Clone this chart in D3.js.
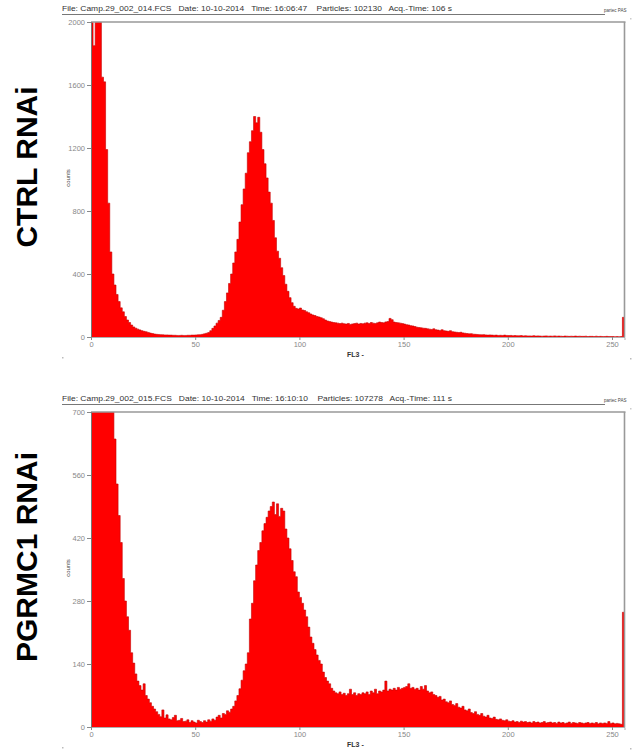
<!DOCTYPE html>
<html>
<head>
<meta charset="utf-8">
<script src="https://cdn.jsdelivr.net/npm/d3@7"></script>
<style>
  body { margin: 0; background: #fff; }
  svg { display: block; font-family: Arial, "Liberation Sans", sans-serif; }
  .header { white-space: pre; }
</style>
</head>
<body>
<div id="chart"></div>
<script>
// ---- data (counts per channel 0..255) ----
var ctrlCounts = [
  2600, 1850, 2500, 2400, 2300, 1650, 1620, 1190, 850, 540,
  400, 330, 270, 225, 185, 160, 130, 108, 92, 76,
  64, 56, 50, 45, 40, 36, 33, 29, 25, 22,
  19, 17, 16, 15, 14, 13, 13, 12, 12, 11,
  11, 10, 10, 11, 10, 10, 11, 11, 12, 12,
  13, 14, 15, 17, 20, 24, 28, 40, 55, 70,
  88, 105, 125, 170, 225, 280, 340, 400, 470, 540,
  620, 730, 840, 940, 1040, 1170, 1240, 1310, 1400, 1360,
  1395, 1300, 1190, 1100, 1010, 920, 850, 740, 630, 545,
  500, 440, 390, 335, 290, 250, 218, 195, 182, 178,
  184, 172, 168, 160, 154, 146, 140, 136, 130, 127,
  122, 116, 108, 102, 98, 95, 92, 90, 88, 85,
  88, 84, 82, 86, 80, 83, 85, 88, 82, 86,
  84, 88, 90, 85, 92, 88, 86, 90, 95, 92,
  90, 96, 98, 118, 110, 95, 92, 90, 88, 85,
  82, 78, 76, 72, 70, 66, 62, 60, 58, 56,
  55, 52, 50, 48, 52, 46, 44, 42, 46, 40,
  38, 36, 40, 34, 32, 30, 28, 30, 26, 24,
  22, 20, 21, 18, 17, 16, 15, 14, 15, 13,
  12, 13, 12, 11, 12, 10, 11, 10, 12, 10,
  9, 10, 8, 9, 8, 8, 9, 7, 8, 7,
  7, 6, 8, 6, 7, 6, 5, 6, 7, 5,
  6, 5, 7, 5, 6, 5, 4, 6, 5, 4,
  5, 4, 6, 4, 5, 4, 4, 5, 3, 4,
  4, 3, 5, 3, 4, 3, 3, 4, 3, 3,
  3, 2, 3, 2, 3, 125
];

var pgrmc1Counts = [
  1600, 1500, 1450, 1400, 1300, 1200, 1100, 1000, 900, 780,
  720, 640, 540, 470, 410, 330, 280, 245, 215, 165,
  142, 118, 102, 92, 82, 96, 70, 62, 54, 46,
  40, 34, 28, 23, 38, 20, 27, 18, 16, 21,
  26, 14, 15, 19, 12, 13, 16, 10, 14, 11,
  9, 15, 12, 10, 14, 11, 16, 13, 18, 15,
  22, 26, 20, 30, 28, 36, 33, 40, 46, 58,
  70, 85, 104, 125, 140, 165, 240, 275, 325, 360,
  392, 410, 436, 452, 466, 480, 490, 500, 472, 496,
  468, 486, 480, 440, 420, 396, 370, 345, 334, 300,
  288, 275, 260, 245, 222, 200, 186, 172, 160, 148,
  140, 122, 110, 102, 96, 86, 80, 76, 74, 78,
  72, 75, 70, 74, 84, 72, 76, 70, 74, 72,
  76, 74, 78, 72, 80, 76, 84, 74, 80, 78,
  82, 102, 80, 84, 82, 86, 82, 88, 84, 86,
  88, 90, 96, 86, 88, 84, 86, 82, 90, 84,
  92, 80, 76, 78, 72, 70, 66, 68, 60, 62,
  56, 54, 58, 50, 48, 52, 44, 42, 46, 38,
  36, 40, 32, 30, 34, 28, 26, 30, 24, 22,
  26, 20, 19, 22, 17, 16, 18, 15, 14, 16,
  13, 12, 14, 11, 12, 10, 13, 11, 12, 10,
  11, 9, 12, 10, 11, 9, 10, 12, 9, 10,
  11, 9, 10, 8, 11, 9, 10, 8, 9, 11,
  8, 10, 9, 8, 10, 9, 8, 9, 10, 8,
  9, 8, 10, 7, 9, 8, 9, 8, 12, 8,
  9, 7, 8, 7, 6, 255
];

var sampleLabels = ["CTRL RNAi", "PGRMC1 RNAi"];
var headerTexts = [
  "File: Camp.29_002_014.FCS   Date: 10-10-2014   Time: 16:06:47    Particles: 102130   Acq.-Time: 106 s",
  "File: Camp.29_002_015.FCS   Date: 10-10-2014   Time: 16:10:10    Particles: 107278   Acq.-Time: 111 s"
];
var yMaxes = [2000, 700];
var yTickValues = [[0, 400, 800, 1200, 1600, 2000], [0, 140, 280, 420, 560, 700]];
var xTickValues = [0, 50, 100, 150, 200, 250];
var xLabel = "FL3 -";
var yLabel = "counts";
var brandText = "partec PAS";

var panels = [
  { label: sampleLabels[0], header: headerTexts[0], counts: ctrlCounts, max: yMaxes[0], ticks: yTickValues[0] },
  { label: sampleLabels[1], header: headerTexts[1], counts: pgrmc1Counts, max: yMaxes[1], ticks: yTickValues[1] }
];

// ---- layout ----
var width = 635, height = 751;
var plotLeft = 91, plotRight = 624.5, plotTop = 22, plotBottom = 337, panelGap = 390;

var svg = d3.select("#chart").append("svg")
  .attr("width", width)
  .attr("height", height);

var xScale = d3.scaleLinear().domain([0, 256]).range([plotLeft, plotRight]);

panels.forEach(function (p, k) {
  var g = svg.append("g").attr("transform", "translate(0," + (k * panelGap) + ")");
  var yScale = d3.scaleLinear().domain([0, p.max]).range([plotBottom, plotTop]);

  // clip so the off-scale channels are cut at the top
  g.append("clipPath").attr("id", "clip" + k)
    .append("rect")
    .attr("x", plotLeft).attr("y", plotTop)
    .attr("width", plotRight - plotLeft).attr("height", plotBottom - plotTop);

  // header line
  g.append("text")
    .attr("class", "header")
    .attr("x", 62).attr("y", 11)
    .attr("textLength", 390).attr("lengthAdjust", "spacingAndGlyphs")
    .style("font-size", "7.5px").style("fill", "#333")
    .text(p.header);
  g.append("line")
    .attr("x1", 62).attr("x2", 605).attr("y1", 14.5).attr("y2", 14.5)
    .style("stroke", "#777").style("stroke-width", 1);
  g.append("text")
    .attr("x", 604).attr("y", 12)
    .style("font-size", "4.5px").style("fill", "#444")
    .text(brandText);

  // histogram as stepped area
  var pts = p.counts.map(function (v, i) { return [i, v]; });
  pts.push([256, p.counts[p.counts.length - 1]]);

  var area = d3.area()
    .x(function (d) { return xScale(d[0]); })
    .y0(plotBottom)
    .y1(function (d) { return yScale(d[1]); })
    .curve(d3.curveStepAfter);
  var line = d3.line()
    .x(function (d) { return xScale(d[0]); })
    .y(function (d) { return yScale(d[1]); })
    .curve(d3.curveStepAfter);

  var hist = g.append("g").attr("clip-path", "url(#clip" + k + ")");
  hist.append("path").datum(pts).attr("d", area)
    .style("fill", "#ff0000");
  hist.append("path").datum(pts).attr("d", line)
    .style("fill", "none").style("stroke", "#c40000").style("stroke-width", 0.6);

  // frame (top and right)
  g.append("line")
    .attr("x1", plotLeft).attr("x2", plotRight + 1).attr("y1", plotTop).attr("y2", plotTop)
    .style("stroke", "#999").style("stroke-width", 1.6);
  g.append("line")
    .attr("x1", plotRight).attr("x2", plotRight).attr("y1", plotTop).attr("y2", plotBottom)
    .style("stroke", "#999").style("stroke-width", 1.6);

  // y axis
  var yAxis = g.append("g")
    .attr("transform", "translate(" + plotLeft + ",0)")
    .call(d3.axisLeft(yScale).tickValues(p.ticks).tickFormat(d3.format("d")).tickSize(4).tickPadding(2));
  yAxis.select(".domain").style("stroke", "#777");
  yAxis.selectAll(".tick line").style("stroke", "#888");
  yAxis.selectAll(".tick text").style("font-size", "7.5px").style("fill", "#888")
    .style("font-family", "Arial, 'Liberation Sans', sans-serif");

  // x axis
  var xAxis = g.append("g")
    .attr("transform", "translate(0," + plotBottom + ")")
    .call(d3.axisBottom(xScale).tickValues(xTickValues).tickFormat(d3.format("d")).tickSize(3).tickPadding(2));
  xAxis.select(".domain").style("stroke", "#999").style("stroke-width", 0.8);
  xAxis.selectAll(".tick line").style("stroke", "#888");
  xAxis.selectAll(".tick text").style("font-size", "7.5px").style("fill", "#888")
    .style("font-family", "Arial, 'Liberation Sans', sans-serif");

  // axis titles
  g.append("text")
    .attr("x", 347).attr("y", plotBottom + 20)
    .style("font-size", "7px").style("font-weight", "bold").style("fill", "#333")
    .text(xLabel);
  g.append("text")
    .attr("transform", "translate(70," + (plotTop + 156) + ") rotate(-90)")
    .attr("text-anchor", "middle")
    .style("font-size", "6px").style("fill", "#444")
    .text(yLabel);

  // small corner marks
  g.append("rect").attr("x", 62).attr("y", plotBottom + 20).attr("width", 1.5).attr("height", 1.5).style("fill", "#bbb");
  g.append("rect").attr("x", 630).attr("y", plotBottom + 21).attr("width", 1.5).attr("height", 1.5).style("fill", "#bbb");
  g.append("rect").attr("x", 630).attr("y", plotTop - 4).attr("width", 1.5).attr("height", 1.5).style("fill", "#ccc");

  // big sample label
  g.append("text")
    .attr("transform", "translate(37," + ((plotTop + plotBottom) / 2 - 12.5) + ") rotate(-90)")
    .attr("text-anchor", "middle")
    .style("font-size", "30px").style("font-weight", "bold").style("fill", "#000")
    .text(p.label);
});
</script>
</body>
</html>
